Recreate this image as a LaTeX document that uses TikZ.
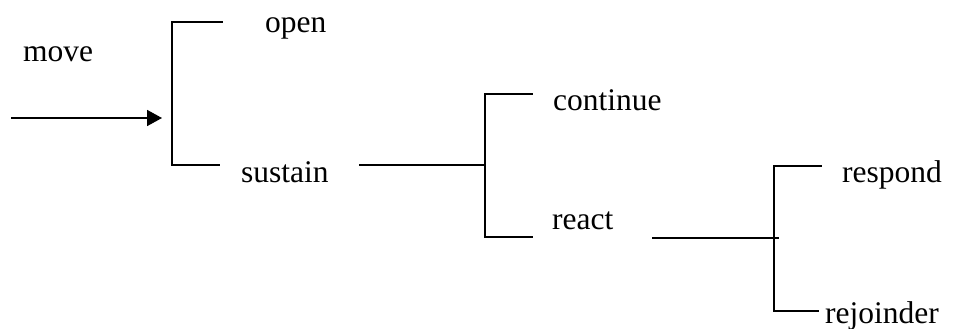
\documentclass[tikz,border=0pt]{standalone}
\usepackage{fontspec}
\setmainfont{Liberation Serif}
\usetikzlibrary{arrows.meta}
\begin{document}
\begin{tikzpicture}[x=1pt,y=-1pt,
  label/.style={anchor=base west,inner sep=0pt,font=\fontsize{31.5}{36}\selectfont},
  rule/.style={line width=1.8pt,line cap=rect},
  feed/.style={line width=1.8pt,-{Triangle[length=15pt,width=16pt]}}]
\useasboundingbox (0,0) rectangle (958,329);

% labels
\node[label] (move)      at (23,62)   {move};
\node[label] (open)      at (265,33)  {open};
\node[label] (sustain)   at (241,182) {sustain};
\node[label] (continue)  at (553,110) {continue};
\node[label] (react)     at (552,229) {react};
\node[label] (respond)   at (842,182) {respond};
\node[label] (rejoinder) at (825,323) {rejoinder};

% corners of the three brackets
\coordinate (b1t) at (172,22);  \coordinate (b1te) at (222,22);
\coordinate (b1b) at (172,165); \coordinate (b1be) at (219,165);
\coordinate (b2t) at (485,94);  \coordinate (b2te) at (532,94);
\coordinate (b2b) at (485,237); \coordinate (b2be) at (532,237);
\coordinate (b3t) at (774,166); \coordinate (b3te) at (821,166);
\coordinate (b3b) at (774,311); \coordinate (b3be) at (818,311);

% feeding lines
\coordinate (in)  at (11,118);
\coordinate (inend) at (162,118);
\coordinate (s0) at (360,165);
\coordinate (r0) at (653,238);
\coordinate (r1) at (778,238);

\draw[feed] (in) -- (inend);
\draw[rule] (b1te) -- (b1t) -- (b1b) -- (b1be);
\draw[rule] (s0) -- (b2t |- s0);
\draw[rule] (b2te) -- (b2t) -- (b2b) -- (b2be);
\draw[rule] (r0) -- (r1);
\draw[rule] (b3te) -- (b3t) -- (b3b) -- (b3be);
\end{tikzpicture}
\end{document}
